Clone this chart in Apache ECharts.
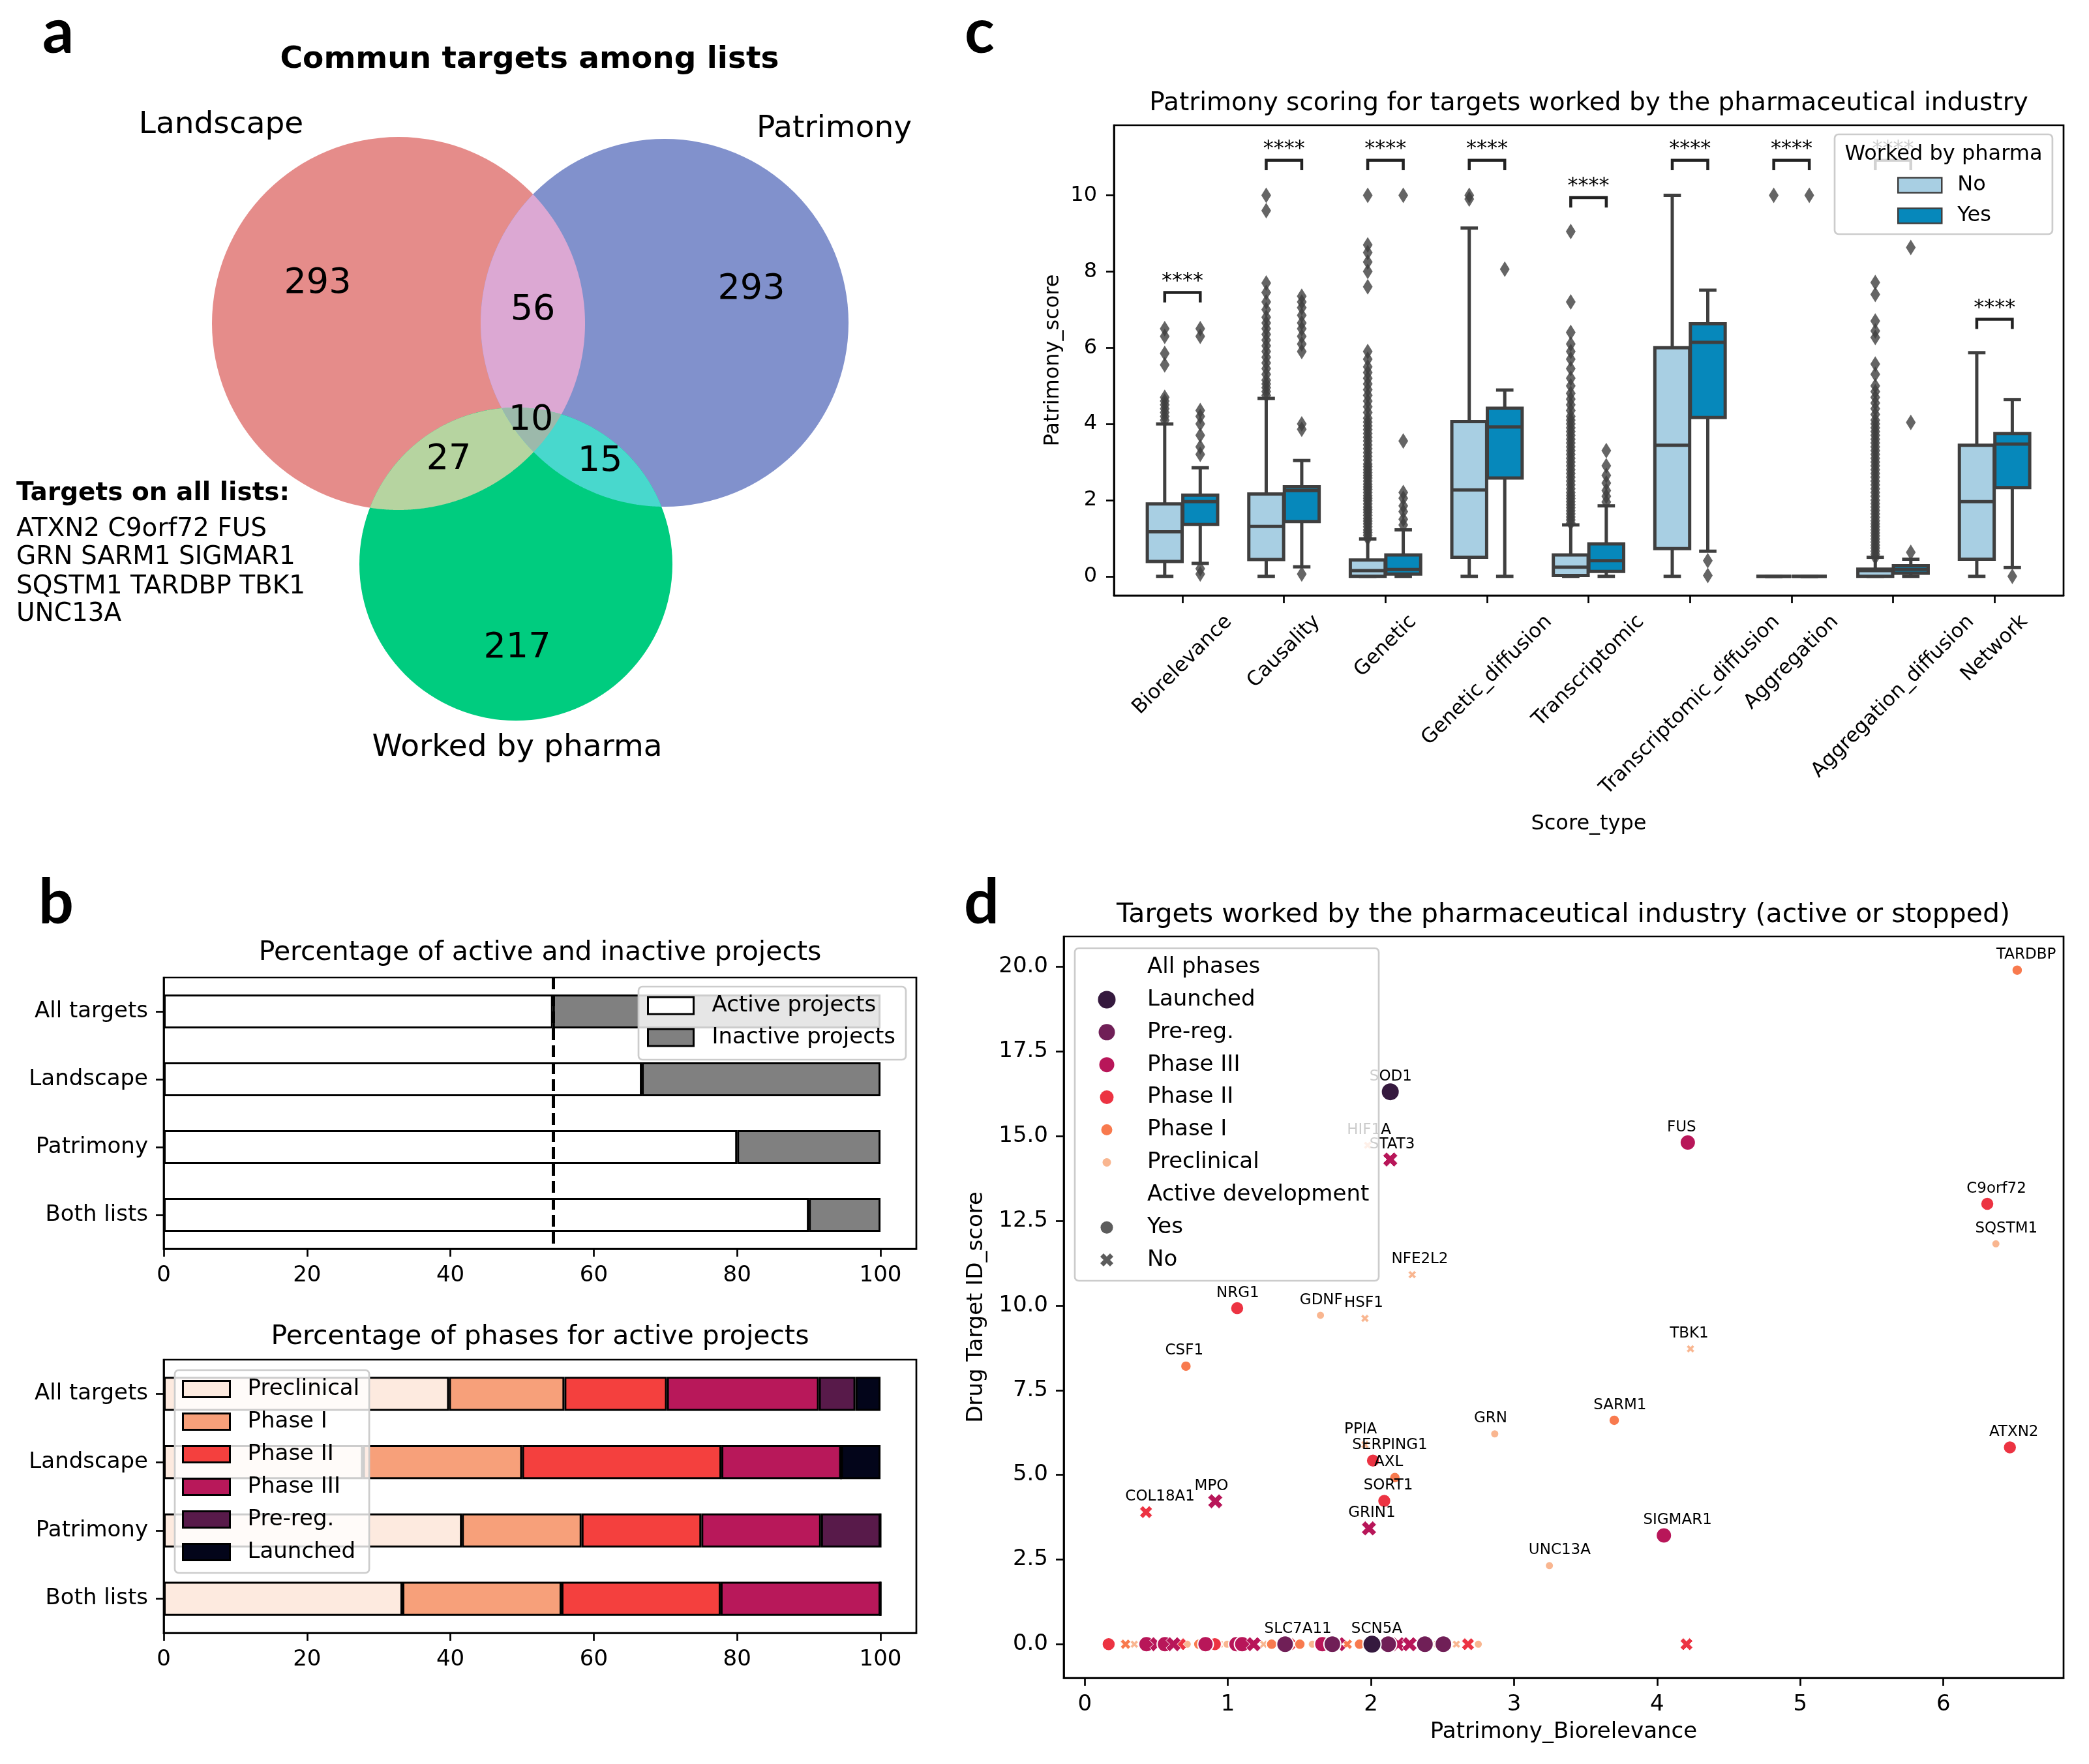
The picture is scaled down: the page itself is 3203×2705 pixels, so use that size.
<!DOCTYPE html>
<html><head><meta charset="utf-8">
<script src="https://cdn.jsdelivr.net/npm/echarts@6/dist/echarts.min.js"></script>
<style>html,body{margin:0;padding:0;background:#fff}#c{width:3203px;height:2705px}</style>
</head><body><div id="c"></div>
<script>
// ================= DATA =================
// Panel a : Venn
const vennSetNames = ['Landscape', 'Patrimony', 'Worked by pharma'];
const vennCounts = ['293', '293', '217', '56', '27', '15', '10']; // L only, P only, W only, L&P, L&W, P&W, all
const targetsAllLists = ['ATXN2 C9orf72 FUS', 'GRN SARM1 SIGMAR1', 'SQSTM1 TARDBP TBK1', 'UNC13A'];

// Panel b : bars
const listCategories = ['All targets', 'Landscape', 'Patrimony', 'Both lists'];
const activePct = [54.3, 66.7, 80.0, 90.0];
const inactivePct = [45.7, 33.3, 20.0, 10.0];
const phaseNames = ['Preclinical', 'Phase I', 'Phase II', 'Phase III', 'Pre-reg.', 'Launched'];
const phasePreclinical = [39.8, 27.8, 41.6, 33.3];
const phaseOne = [16.1, 22.2, 16.7, 22.2];
const phaseTwo = [14.3, 27.8, 16.7, 22.2];
const phaseThree = [21.2, 16.7, 16.7, 22.3];
const phasePreReg = [5.1, 0, 8.3, 0];
const phaseLaunched = [3.5, 5.5, 0, 0];
const bTicks = [0, 20, 40, 60, 80, 100];

// Panel c : boxplots  [min, q1, median, q3, max]
const scoreTypes = ['Biorelevance', 'Causality', 'Genetic', 'Genetic_diffusion', 'Transcriptomic',
  'Transcriptomic_diffusion', 'Aggregation', 'Aggregation_diffusion', 'Network'];
const boxNo = [
  [0, 0.39, 1.17, 1.90, 4.0], [0, 0.44, 1.31, 2.16, 4.67], [0, 0.0, 0.15, 0.43, 0.98],
  [0, 0.5, 2.27, 4.06, 9.14], [0, 0.02, 0.24, 0.56, 1.35], [0, 0.73, 3.44, 6.0, 10.0],
  [0, 0, 0, 0, 0], [0, 0.0, 0.15, 0.19, 0.5], [0, 0.45, 1.96, 3.44, 5.87]];
const boxYes = [
  [0.34, 1.36, 1.96, 2.13, 2.85], [0.25, 1.44, 2.25, 2.35, 3.04], [0, 0.06, 0.18, 0.56, 1.22],
  [0, 2.58, 3.92, 4.41, 4.89], [0, 0.13, 0.41, 0.85, 1.85], [0.66, 4.17, 6.14, 6.63, 7.51],
  [0, 0, 0, 0, 0], [0, 0.08, 0.18, 0.28, 0.45], [0.23, 2.33, 3.47, 3.75, 4.64]];
const fliersNo = [
  [4.1, 4.2, 4.3, 4.4, 4.5, 4.6, 4.7, 5.55, 5.85, 6.3, 6.5],
  [4.75, 4.85, 4.95, 5.05, 5.15, 5.3, 5.45, 5.6, 5.75, 5.9, 6.05, 6.2, 6.35, 6.5, 6.65, 6.8, 7.0, 7.2, 7.45, 7.7, 9.6, 10.0],
  [1.0, 1.08, 1.15, 1.22, 1.3, 1.38, 1.45, 1.52, 1.6, 1.68, 1.75, 1.82, 1.9, 1.98, 2.05, 2.12, 2.2, 2.28, 2.35, 2.42,
   2.5, 2.58, 2.65, 2.72, 2.8, 2.88, 2.95, 3.05, 3.15, 3.25, 3.35, 3.45, 3.55, 3.65, 3.75, 3.85, 3.95, 4.05, 4.15,
   4.3, 4.45, 4.6, 4.75, 4.9, 5.05, 5.2, 5.35, 5.5, 5.7, 5.9, 7.6, 8.0, 8.25, 8.5, 8.7, 10.0],
  [9.9, 10.0],
  [1.4, 1.48, 1.56, 1.64, 1.72, 1.8, 1.88, 1.96, 2.04, 2.12, 2.2, 2.3, 2.4, 2.5, 2.6, 2.7, 2.8, 2.9, 3.0, 3.1, 3.2,
   3.3, 3.4, 3.5, 3.6, 3.7, 3.8, 3.9, 4.0, 4.1, 4.2, 4.35, 4.5, 4.65, 4.8, 5.0, 5.2, 5.45, 5.7, 5.9, 6.1, 6.4, 7.2, 9.05],
  [],
  [10.0],
  [0.5, 0.58, 0.66, 0.74, 0.82, 0.9, 0.98, 1.06, 1.14, 1.22, 1.3, 1.38, 1.46, 1.55, 1.64, 1.73, 1.82, 1.91, 2.0, 2.1,
   2.2, 2.3, 2.4, 2.5, 2.6, 2.7, 2.8, 2.9, 3.0, 3.1, 3.2, 3.3, 3.4, 3.5, 3.6, 3.7, 3.8, 3.9, 4.0, 4.1, 4.25, 4.4,
   4.55, 4.7, 4.85, 5.0, 5.3, 5.57, 6.27, 6.44, 6.7, 7.4, 7.71],
  []];
const fliersYes = [
  [0.06, 0.2, 3.2, 3.4, 3.7, 4.0, 4.2, 4.35, 6.3, 6.5],
  [0.06, 3.86, 4.0, 5.9, 6.1, 6.3, 6.5, 6.65, 6.85, 7.05, 7.2, 7.35],
  [1.35, 1.5, 1.7, 1.85, 2.05, 2.2, 3.55, 10.0],
  [8.06],
  [1.95, 2.1, 2.25, 2.45, 2.65, 2.9, 3.3],
  [0.41, 0.02],
  [10.0],
  [0.63, 4.04, 8.63],
  [0.0]];
const sigBracketY = [7.45, 10.92, 10.92, 10.92, 9.94, 10.92, 10.92, 10.92, 6.75];
const sigText = ['****', '****', '****', '****', '****', '****', '****', '****', '****'];
const cTicks = [0, 2, 4, 6, 8, 10];

// Panel d : scatter
const dName = ['TARDBP', 'SOD1', 'HIF1A', 'STAT3', 'FUS', 'C9orf72', 'SQSTM1', 'NFE2L2', 'NRG1', 'GDNF', 'HSF1', 'TBK1',
  'CSF1', 'SARM1', 'GRN', 'ATXN2', 'PPIA', 'SERPING1', 'AXL', 'SORT1', 'COL18A1', 'MPO', 'GRIN1', 'SIGMAR1', 'UNC13A',
  'SLC7A11', 'SCN5A',
  '', '', '', '', '', '', '', '', '', '', '', '', '', '', '', '', '', '', '', '', '', '', '', '', '', '', '', '', '', '', '', '', '', '', '', '', '', '', '', '', '', ''];
const dX = [6.516, 2.135, 1.977, 2.135, 4.214, 6.307, 6.367, 2.288, 1.065, 1.647, 1.958, 4.233,
  0.707, 3.70, 2.865, 6.465, 1.958, 2.014, 2.167, 2.093, 0.428, 0.912, 1.986, 4.047, 3.247,
  1.40, 2.007,
  0.167, 0.285, 0.346, 0.431, 0.506, 0.56, 0.62, 0.665, 0.716, 0.797, 0.844, 0.909, 0.95, 0.994, 1.06, 1.10, 1.18,
  1.25, 1.306, 1.373, 1.43, 1.503, 1.59, 1.66, 1.73, 1.77, 1.834, 1.92, 1.967, 2.03, 2.058, 2.12, 2.19, 2.27, 2.357,
  2.377, 2.424, 2.475, 2.506, 2.597, 2.678, 2.75, 4.205];
const dY = [19.9, 16.31, 14.73, 14.31, 14.81, 13.0, 11.82, 10.91, 9.92, 9.71, 9.62, 8.72,
  8.21, 6.61, 6.21, 5.81, 5.89, 5.42, 4.92, 4.23, 3.90, 4.22, 3.42, 3.21, 2.32,
  0, 0,
  0, 0, 0, 0, 0, 0, 0, 0, 0, 0, 0, 0, 0, 0, 0, 0, 0, 0, 0, 0, 0, 0, 0, 0, 0, 0, 0, 0, 0, 0, 0, 0, 0, 0, 0, 0, 0, 0,
  0, 0, 0, 0, 0];
const dPhase = ['Phase I', 'Launched', 'Preclinical', 'Phase III', 'Phase III', 'Phase II', 'Preclinical', 'Preclinical',
  'Phase II', 'Preclinical', 'Preclinical', 'Preclinical', 'Phase I', 'Phase I', 'Preclinical', 'Phase II', 'Preclinical',
  'Phase II', 'Phase I', 'Phase II', 'Phase II', 'Phase III', 'Phase III', 'Phase III', 'Preclinical',
  'Pre-reg.', 'Launched',
  'Phase II', 'Phase I', 'Preclinical', 'Phase III', 'Phase III', 'Phase III', 'Phase III', 'Phase II', 'Preclinical',
  'Phase I', 'Phase III', 'Phase II', 'Preclinical', 'Preclinical', 'Phase III', 'Phase III', 'Phase III',
  'Preclinical', 'Phase I', 'Preclinical', 'Phase II', 'Phase I', 'Preclinical', 'Phase III', 'Pre-reg.', 'Phase III',
  'Phase I', 'Phase I', 'Preclinical', 'Preclinical', 'Phase I', 'Pre-reg.', 'Phase III', 'Phase III', 'Phase II',
  'Pre-reg.', 'Preclinical', 'Phase I', 'Pre-reg.', 'Preclinical', 'Phase II', 'Preclinical', 'Phase II'];
const dActive = ['Yes', 'Yes', 'No', 'No', 'Yes', 'Yes', 'Yes', 'No', 'Yes', 'Yes', 'No', 'No',
  'Yes', 'Yes', 'Yes', 'Yes', 'No', 'Yes', 'Yes', 'Yes', 'No', 'No', 'No', 'Yes', 'Yes',
  'Yes', 'Yes',
  'Yes', 'No', 'No', 'Yes', 'No', 'Yes', 'No', 'No', 'Yes', 'Yes', 'Yes', 'Yes', 'Yes', 'Yes', 'Yes', 'Yes', 'No',
  'No', 'Yes', 'No', 'No', 'Yes', 'Yes', 'Yes', 'Yes', 'No', 'No', 'Yes', 'Yes', 'Yes', 'Yes', 'Yes', 'No', 'No', 'No',
  'Yes', 'Yes', 'No', 'Yes', 'No', 'No', 'Yes', 'No'];
const dXTicks = [0, 1, 2, 3, 4, 5, 6];
const dYTicks = [0, 2.5, 5, 7.5, 10, 12.5, 15, 17.5, 20];

// ================= STYLE / LAYOUT =================
const FONT = "'DejaVu Sans', sans-serif";
const X_PATH = 'path://M-1,-0.5 L-0.5,-1 L0,-0.5 L0.5,-1 L1,-0.5 L0.5,0 L1,0.5 L0.5,1 L0,0.5 L-0.5,1 L-1,0.5 L-0.5,0 Z';
const DIAMOND = 'path://M0,-1 L0.6,0 L0,1 L-0.6,0 Z';
const bPhaseColors = ['#fdeadf', '#f7a07a', '#f4403e', '#b8185a', '#581a4a', '#03051a'];
const dPhaseColor = {'Launched': '#35193e', 'Pre-reg.': '#701f57', 'Phase III': '#b81659', 'Phase II': '#ec3342', 'Phase I': '#f87a4e', 'Preclinical': '#f9b690'};
const dPhaseSize = {'Launched': 28, 'Pre-reg.': 26, 'Phase III': 24, 'Phase II': 20.5, 'Phase I': 16.5, 'Preclinical': 13};
const NO_COLOR = '#a8cfe3', YES_COLOR = '#0688bb', BOX_LINE = '#3f3f3f';
const HUE_OFF = 0.175, BOX_W = 0.343;
const C_YMIN = -0.5;
// venn layout (units of 100 px)
const vennCircles = [[6.11, 4.96, 2.86], [10.19, 4.95, 2.82], [7.91, 8.65, 2.40]];
const vennRegions = [[0], [1], [2], [0, 1], [0, 2], [1, 2], [0, 1, 2]];
const vennRegionColors = ['#e58c8a', '#8191cc', '#00cc7f', '#dca8d3', '#b6d4a0', '#48d8cd', '#9cb9ab'];
const vennCountPos = [[4.87, 4.35], [11.52, 4.44], [7.93, 9.94], [8.17, 4.76], [6.88, 7.05], [9.20, 7.08], [8.14, 6.45]];
const vennSetLabelPos = [[3.39, 1.92], [12.79, 1.98], [7.93, 11.47]];

const _ctx = document.createElement('canvas').getContext('2d');
function textW(t, fs) { _ctx.font = fs + 'px "DejaVu Sans"'; return _ctx.measureText(t).width; }

function axisBase(fs, margin) {
  return {
    axisLine: {show: true, onZero: false, lineStyle: {color: '#000', width: 2.7}},
    axisTick: {show: true, length: 12, lineStyle: {color: '#000', width: 2.7}},
    axisLabel: {color: '#000', fontSize: fs, fontFamily: FONT, margin: margin},
    splitLine: {show: false}
  };
}
function merge(a, b) {
  const o = JSON.parse(JSON.stringify(a));
  for (const k in b) {
    if (b[k] && typeof b[k] === 'object' && !Array.isArray(b[k]) && o[k] && typeof o[k] === 'object') Object.assign(o[k], b[k]);
    else o[k] = b[k];
  }
  return o;
}
const gridFrame = {show: true, borderColor: '#000', borderWidth: 2.7, containLabel: false};

// ================= CHART =================
const chart = echarts.init(document.getElementById('c'));
const series = [];

// ---- Venn ----
series.push({
  type: 'custom', name: 'venn', xAxisIndex: 0, yAxisIndex: 0, silent: true,
  data: vennRegions.map((r, i) => [i]),
  renderItem: function (params, api) {
    const k = api.value(0);
    const circ = vennRegions[k].map(j => {
      const c = vennCircles[j];
      const p = api.coord([c[0], c[1]]);
      return [p[0], p[1], api.size([c[2], 0])[0]];
    });
    const color = vennRegionColors[k];
    if (circ.length === 1) return {type: 'circle', shape: {cx: circ[0][0], cy: circ[0][1], r: circ[0][2]}, style: {fill: color}};
    const pts = [];
    circ.forEach((c, a) => {
      for (let t = 0; t < 1440; t++) {
        const ang = t / 1440 * 2 * Math.PI;
        const x = c[0] + c[2] * Math.cos(ang), y = c[1] + c[2] * Math.sin(ang);
        if (circ.every((o, b) => b === a || Math.hypot(x - o[0], y - o[1]) <= o[2] + 0.01)) pts.push([x, y]);
      }
    });
    let mx = 0, my = 0;
    pts.forEach(p => { mx += p[0]; my += p[1]; });
    mx /= pts.length; my /= pts.length;
    pts.sort((p, q) => Math.atan2(p[1] - my, p[0] - mx) - Math.atan2(q[1] - my, q[0] - mx));
    return {type: 'polygon', shape: {points: pts}, style: {fill: color}};
  }
});
series.push({
  type: 'custom', name: 'vennText', xAxisIndex: 0, yAxisIndex: 0, silent: true, z: 3,
  data: vennCounts.map((c, i) => [vennCountPos[i][0], vennCountPos[i][1], i, 0])
    .concat(vennSetNames.map((n, i) => [vennSetLabelPos[i][0], vennSetLabelPos[i][1], i, 1])),
  renderItem: function (params, api) {
    const p = api.coord([api.value(0), api.value(1)]);
    const isSet = api.value(3) === 1;
    const txt = isSet ? vennSetNames[api.value(2)] : vennCounts[api.value(2)];
    return {type: 'text', x: p[0], y: p[1], style: {text: txt, fontSize: isSet ? 47 : 54, fontFamily: FONT, fill: '#000', align: 'center', verticalAlign: 'middle'}};
  }
});

// ---- Panel b ----
series.push({
  type: 'bar', name: 'Active projects', xAxisIndex: 1, yAxisIndex: 1, stack: 'act', barWidth: '50%',
  data: activePct, itemStyle: {color: '#ffffff', borderColor: '#000', borderWidth: 3}
});
series.push({
  type: 'bar', name: 'Inactive projects', xAxisIndex: 1, yAxisIndex: 1, stack: 'act', barWidth: '50%',
  data: inactivePct, itemStyle: {color: '#808080', borderColor: '#000', borderWidth: 3},
  markLine: {silent: true, symbol: ['none', 'none'], label: {show: false},
    lineStyle: {color: '#000', width: 5, type: [18, 8]}, data: [{xAxis: activePct[0]}]}
});
const phaseData = [phasePreclinical, phaseOne, phaseTwo, phaseThree, phasePreReg, phaseLaunched];
phaseNames.forEach((n, i) => {
  series.push({
    type: 'bar', name: n, xAxisIndex: 2, yAxisIndex: 2, stack: 'ph', barWidth: '50%',
    data: phaseData[i], itemStyle: {color: bPhaseColors[i], borderColor: '#000', borderWidth: 3}
  });
});

// ---- Panel c ----
function boxRender(offset, fill) {
  return function (params, api) {
    const x = api.value(0) + offset;
    const P = [1, 2, 3, 4, 5].map(k => api.coord([x, api.value(k)]));
    const bw = api.size([BOX_W, 0])[0];
    const cx = P[2][0];
    const ls = {stroke: BOX_LINE, lineWidth: 5};
    return {type: 'group', children: [
      {type: 'line', shape: {x1: cx, y1: P[3][1], x2: cx, y2: P[4][1]}, style: ls},
      {type: 'line', shape: {x1: cx, y1: P[1][1], x2: cx, y2: P[0][1]}, style: ls},
      {type: 'line', shape: {x1: cx - bw / 4, y1: P[4][1], x2: cx + bw / 4, y2: P[4][1]}, style: ls},
      {type: 'line', shape: {x1: cx - bw / 4, y1: P[0][1], x2: cx + bw / 4, y2: P[0][1]}, style: ls},
      {type: 'rect', shape: {x: cx - bw / 2, y: P[3][1], width: bw, height: P[1][1] - P[3][1]}, style: {fill: fill, stroke: BOX_LINE, lineWidth: 5}},
      {type: 'line', shape: {x1: cx - bw / 2, y1: P[2][1], x2: cx + bw / 2, y2: P[2][1]}, style: ls}
    ]};
  };
}
series.push({type: 'custom', name: 'No', xAxisIndex: 3, yAxisIndex: 3, data: boxNo.map((b, i) => [i].concat(b)), renderItem: boxRender(-HUE_OFF, NO_COLOR)});
series.push({type: 'custom', name: 'Yes', xAxisIndex: 3, yAxisIndex: 3, data: boxYes.map((b, i) => [i].concat(b)), renderItem: boxRender(HUE_OFF, YES_COLOR)});
function flierData(list, off) {
  const out = [];
  list.forEach((vals, i) => vals.forEach(v => out.push([i + off, v])));
  return out;
}
series.push({type: 'scatter', name: 'No', xAxisIndex: 3, yAxisIndex: 3, symbol: DIAMOND, symbolSize: [15, 24],
  itemStyle: {color: BOX_LINE}, data: flierData(fliersNo, -HUE_OFF), z: 3});
series.push({type: 'scatter', name: 'Yes', xAxisIndex: 3, yAxisIndex: 3, symbol: DIAMOND, symbolSize: [15, 24],
  itemStyle: {color: BOX_LINE}, data: flierData(fliersYes, HUE_OFF), z: 3});
series.push({
  type: 'custom', name: 'sig', xAxisIndex: 3, yAxisIndex: 3, z: 3, silent: true,
  data: sigBracketY.map((y, i) => [i, y]),
  renderItem: function (params, api) {
    const i = api.value(0), yT = api.value(1);
    const a = api.coord([i - HUE_OFF, yT - 0.26]), b = api.coord([i - HUE_OFF, yT]);
    const c = api.coord([i + HUE_OFF, yT]), d = api.coord([i + HUE_OFF, yT - 0.26]);
    return {type: 'group', children: [
      {type: 'polyline', shape: {points: [a, b, c, d]}, style: {stroke: '#222', lineWidth: 4.5, fill: null}},
      {type: 'text', x: (b[0] + c[0]) / 2, y: b[1] - 1, style: {text: sigText[i], fontSize: 32, fontFamily: FONT, fill: '#000', align: 'center', verticalAlign: 'bottom'}}
    ]};
  }
});
series.push({
  type: 'custom', name: 'cLabels', xAxisIndex: 3, yAxisIndex: 3, silent: true,
  data: scoreTypes.map((s, i) => [i, C_YMIN]),
  renderItem: function (params, api) {
    const i = api.value(0);
    const p = api.coord([i, api.value(1)]);
    const fs = 31;
    const w = textW(scoreTypes[i], fs);
    const d = (w + 0.78 * fs) / (2 * Math.SQRT2);
    return {type: 'text', x: p[0], y: p[1] + 27 + d, rotation: Math.PI / 4,
      style: {text: scoreTypes[i], fontSize: fs, fontFamily: FONT, fill: '#000', align: 'center', verticalAlign: 'middle'}};
  }
});

// ---- Panel d ----
const dDrawOrder = ['Preclinical', 'Phase I', 'Phase II', 'Phase III', 'Pre-reg.', 'Launched'];
dDrawOrder.forEach(ph => {
  const data = [];
  dX.forEach((x, i) => {
    if (dPhase[i] !== ph) return;
    const act = dActive[i] === 'Yes';
    data.push({value: [x, dY[i]], symbol: act ? 'circle' : X_PATH, symbolSize: act ? dPhaseSize[ph] : dPhaseSize[ph] * 0.95,
      itemStyle: {borderWidth: act ? 2 : 1}});
  });
  series.push({type: 'scatter', name: 'd_' + ph, xAxisIndex: 4, yAxisIndex: 4, data: data,
    itemStyle: {color: dPhaseColor[ph], borderColor: '#ffffff', borderWidth: 2, opacity: 1}});
});
['All phases', 'Active development'].forEach(n => series.push({type: 'scatter', name: 'd_' + n, xAxisIndex: 4, yAxisIndex: 4, data: [], itemStyle: {color: 'rgba(0,0,0,0)'}}));
['Yes', 'No'].forEach(n => series.push({type: 'scatter', name: 'd_' + n, xAxisIndex: 4, yAxisIndex: 4, data: [], itemStyle: {color: '#333333'}}));
series.push({
  type: 'custom', name: 'dLabels', xAxisIndex: 4, yAxisIndex: 4, silent: true, z: 3,
  data: dName.map((n, i) => [dX[i], dY[i], i]).filter(d => dName[d[2]] !== ''),
  renderItem: function (params, api) {
    const p = api.coord([api.value(0) - 0.145, api.value(1) + 0.45]);
    return {type: 'text', x: p[0], y: p[1], style: {text: dName[api.value(2)], fontSize: 23, fontFamily: FONT, fill: '#000', align: 'left', verticalAlign: 'middle'}};
  }
});

// ---- legends ----
const legends = [];
legends.push({
  orient: 'vertical', left: 979, top: 1513, padding: [12, 16, 17, 13], itemWidth: 70, itemHeight: 26, itemGap: 15,
  selectedMode: false, backgroundColor: 'rgba(255,255,255,0.8)', borderColor: '#cccccc', borderWidth: 2.7, borderRadius: 6,
  textStyle: {fontSize: 34, fontFamily: FONT, color: '#000', padding: [0, 0, 0, 23]},
  itemStyle: {borderColor: '#000', borderWidth: 3},
  data: [{name: 'Active projects', icon: 'rect'}, {name: 'Inactive projects', icon: 'rect'}]
});
legends.push({
  orient: 'vertical', left: 268, top: 2101, padding: [12, 15, 15, 11], itemWidth: 72, itemHeight: 25, itemGap: 16,
  selectedMode: false, backgroundColor: 'rgba(255,255,255,0.8)', borderColor: '#cccccc', borderWidth: 2.7, borderRadius: 6,
  textStyle: {fontSize: 34, fontFamily: FONT, color: '#000', padding: [0, 0, 0, 22]},
  itemStyle: {borderColor: '#000', borderWidth: 3},
  data: phaseNames.map((n, i) => ({name: n, icon: 'rect', itemStyle: {color: bPhaseColors[i]}}))
});
legends.push({
  orient: 'vertical', left: 2813, top: 206, padding: [62, 94, 12, 96], itemWidth: 67, itemHeight: 23, itemGap: 15,
  selectedMode: false, backgroundColor: 'rgba(255,255,255,0.8)', borderColor: '#cccccc', borderWidth: 2.7, borderRadius: 6,
  textStyle: {fontSize: 32, fontFamily: FONT, color: '#000', padding: [0, 0, 0, 19]},
  data: [{name: 'No', icon: 'rect', itemStyle: {color: NO_COLOR, borderColor: BOX_LINE, borderWidth: 2.5}},
         {name: 'Yes', icon: 'rect', itemStyle: {color: YES_COLOR, borderColor: BOX_LINE, borderWidth: 2.5}}]
});
const dLegendEntries = ['All phases', 'Launched', 'Pre-reg.', 'Phase III', 'Phase II', 'Phase I', 'Preclinical', 'Active development', 'Yes', 'No'];
const dLegendSize = [20, 27, 25, 23, 21, 17, 13, 20, 19, 20];
dLegendEntries.forEach((n, k) => {
  const s = dLegendSize[k];
  let color = dPhaseColor[n] || '#333333';
  if (n === 'All phases' || n === 'Active development') color = 'rgba(0,0,0,0)';
  legends.push({
    left: 1697 - s / 2, top: 1483 + k * 49.9 - 17, padding: 0, itemWidth: s, itemHeight: s, selectedMode: false, z: 6,
    formatter: name => name.replace(/^d_/, ''),
    textStyle: {fontSize: 34, fontFamily: FONT, color: '#000', padding: [0, 0, 0, 57 - s / 2]},
    data: [{name: 'd_' + n, icon: n === 'No' ? X_PATH : 'circle', itemStyle: {color: color, borderWidth: 0}}]
  });
});

// ---- graphic texts ----
function gText(text, x, y, fs, opts) {
  opts = opts || {};
  return {type: 'text', x: x, y: y, z: opts.z || 10, rotation: opts.rotation || 0,
    style: {text: text, fontSize: fs, fontFamily: opts.family || FONT, fontWeight: opts.weight || 'normal', fill: '#000',
      align: opts.align || 'center', verticalAlign: 'middle'}};
}
const LETTER = "Lato, 'Open Sans', sans-serif";
const graphics = [
  gText('a', 89, 50, 95, {weight: 'bold', family: LETTER}),
  gText('b', 86, 1385, 95, {weight: 'bold', family: LETTER}),
  gText('c', 1502, 50, 95, {weight: 'bold', family: LETTER}),
  gText('d', 1505, 1385, 95, {weight: 'bold', family: LETTER}),
  gText('Commun targets among lists', 812, 92, 47, {weight: 'bold'}),
  gText('Targets on all lists:', 25, 757, 39, {weight: 'bold', align: 'left'}),
  gText('Percentage of active and inactive projects', 828, 1461, 41),
  gText('Percentage of phases for active projects', 828, 2050, 41),
  gText('Patrimony scoring for targets worked by the pharmaceutical industry', 2436, 159, 39),
  gText('Targets worked by the pharmaceutical industry (active or stopped)', 2397, 1403, 41),
  gText('Worked by pharma', 2980, 237, 32),
  {type: 'rect', z: 5, shape: {x: 1648, y: 1454, width: 466, height: 510, r: 6},
    style: {fill: 'rgba(255,255,255,0.8)', stroke: '#cccccc', lineWidth: 2.7}}
];
targetsAllLists.forEach((t, i) => graphics.push(gText(t, 25, [812, 855, 900, 942][i], 39, {align: 'left'})));

const option = {
  animation: false,
  backgroundColor: '#ffffff',
  textStyle: {fontFamily: FONT},
  grid: [
    {left: 0, top: 0, width: 1400, height: 1200, show: false},
    Object.assign({left: 251, top: 1499, width: 1154, height: 416}, gridFrame),
    Object.assign({left: 251, top: 2085, width: 1154, height: 419}, gridFrame),
    Object.assign({left: 1708, top: 192, width: 1456, height: 721}, gridFrame),
    Object.assign({left: 1631, top: 1436, width: 1533, height: 1137}, gridFrame)
  ],
  xAxis: [
    {type: 'value', gridIndex: 0, min: 0, max: 14, show: false},
    merge(axisBase(34, 24), {type: 'value', gridIndex: 1, min: 0, max: 105,
      axisTick: {customValues: bTicks}, axisLabel: {customValues: bTicks}}),
    merge(axisBase(34, 24), {type: 'value', gridIndex: 2, min: 0, max: 105,
      axisTick: {customValues: bTicks}, axisLabel: {customValues: bTicks}}),
    merge(axisBase(31, 24), {type: 'value', gridIndex: 3, min: -0.675, max: 8.68,
      axisTick: {customValues: [0, 1, 2, 3, 4, 5, 6, 7, 8]}, axisLabel: {show: false},
      name: 'Score_type', nameLocation: 'middle', nameGap: 335, nameTextStyle: {fontSize: 32, fontFamily: FONT, color: '#000'}}),
    merge(axisBase(34, 24), {type: 'value', gridIndex: 4, min: -0.147, max: 6.84,
      axisTick: {customValues: dXTicks}, axisLabel: {customValues: dXTicks},
      name: 'Patrimony_Biorelevance', nameLocation: 'middle', nameGap: 66, nameTextStyle: {fontSize: 34, fontFamily: FONT, color: '#000'}})
  ],
  yAxis: [
    {type: 'value', gridIndex: 0, min: 0, max: 12, inverse: true, show: false},
    merge(axisBase(34, 24), {type: 'category', gridIndex: 1, data: listCategories, inverse: true,
      axisTick: {alignWithLabel: true}}),
    merge(axisBase(34, 24), {type: 'category', gridIndex: 2, data: listCategories, inverse: true,
      axisTick: {alignWithLabel: true}}),
    merge(axisBase(32, 26), {type: 'value', gridIndex: 3, min: C_YMIN, max: 11.84,
      axisTick: {customValues: cTicks}, axisLabel: {customValues: cTicks},
      name: 'Patrimony_score', nameLocation: 'middle', nameGap: 77, nameTextStyle: {fontSize: 32, fontFamily: FONT, color: '#000'}}),
    merge(axisBase(34, 24), {type: 'value', gridIndex: 4, min: -0.995, max: 20.895,
      axisTick: {customValues: dYTicks}, axisLabel: {customValues: dYTicks},
      name: 'Drug Target ID_score', nameLocation: 'middle', nameGap: 117, nameTextStyle: {fontSize: 34, fontFamily: FONT, color: '#000'}})
  ],
  legend: legends,
  graphic: {elements: graphics},
  series: series
};
option.yAxis[4].axisLabel.formatter = v => Number(v).toFixed(1);
chart.setOption(option);
</script>
</body></html>
